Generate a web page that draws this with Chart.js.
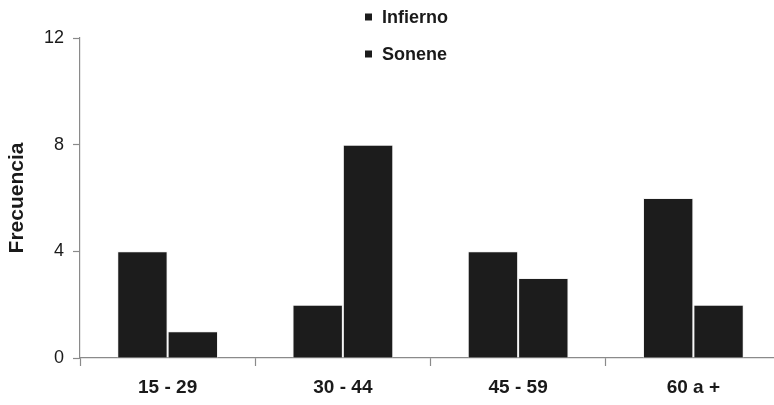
<!DOCTYPE html>
<html>
<head>
<meta charset="utf-8">
<script src="https://cdn.jsdelivr.net/npm/chart.js@4"></script>
<style>
  html, body { margin: 0; padding: 0; background: #fff; overflow: hidden; }
  #wrap { position: relative; width: 782px; height: 405px; }
</style>
</head>
<body>
<div id="wrap"><canvas id="c"></canvas></div>
<script>
// Frequency by age group
const categories = ['15 - 29', '30 - 44', '45 - 59', '60 a +'];
const infierno = [4, 2, 4, 6];
const sonene = [1, 8, 3, 2];
const seriesNames = ['Infierno', 'Sonene'];
const yTicks = [0, 4, 8, 12];

const FONT = '"Liberation Sans", Arial, Helvetica, sans-serif';
const BAR = '#1c1c1c';
const AXIS = '#8a8a8a';

// Legend stacked in a column above the plot
const stackedLegend = {
  id: 'stackedLegend',
  afterDraw(chart) {
    const ctx = chart.ctx;
    ctx.save();
    ctx.font = 'bold 18px ' + FONT;
    ctx.textBaseline = 'middle';
    ctx.textAlign = 'left';
    const rows = [17, 54];
    chart.data.datasets.forEach((ds, i) => {
      const y = rows[i];
      ctx.fillStyle = ds.backgroundColor;
      ctx.fillRect(365, y - 3.5, 7, 7);
      ctx.fillStyle = '#1a1a1a';
      ctx.fillText(ds.label, 382, y + 1);
    });
    ctx.restore();
  }
};

new Chart(document.getElementById('c'), {
  type: 'bar',
  data: {
    labels: categories,
    datasets: [
      { label: seriesNames[0], data: infierno, backgroundColor: BAR, borderColor: '#f2f2f2', borderWidth: 1 },
      { label: seriesNames[1], data: sonene, backgroundColor: BAR, borderColor: '#f2f2f2', borderWidth: 1 }
    ]
  },
  options: {
    responsive: true,
    maintainAspectRatio: false,
    animation: false,
    layout: { padding: { top: 38, right: 1, left: 0, bottom: 0 } },
    datasets: { bar: { categoryPercentage: 0.575, barPercentage: 1 } },
    plugins: { legend: { display: false }, tooltip: { enabled: false } },
    scales: {
      x: {
        offset: true,
        grid: { offset: true, drawOnChartArea: false, color: AXIS, tickLength: 8, tickWidth: 1.2 },
        border: { color: AXIS, width: 1.2 },
        ticks: { color: '#1a1a1a', font: { family: FONT, size: 19, weight: 'bold' }, padding: 10, maxRotation: 0 },
        afterFit(s) { s.height = 47; }
      },
      y: {
        min: 0, max: 12,
        afterBuildTicks(s) { s.ticks = yTicks.map(v => ({ value: v })); },
        grid: { drawOnChartArea: false, color: AXIS, tickLength: 7, tickWidth: 1.2 },
        border: { color: AXIS, width: 1.2 },
        ticks: { color: '#1a1a1a', font: { family: FONT, size: 18 }, padding: 9 },
        title: { display: true, text: 'Frecuencia', color: '#1a1a1a', font: { family: FONT, size: 21, weight: 'bold' }, padding: { top: 5, bottom: 0 } },
        afterFit(s) { s.width = 80; }
      }
    }
  },
  plugins: [stackedLegend]
});
</script>
</body>
</html>
